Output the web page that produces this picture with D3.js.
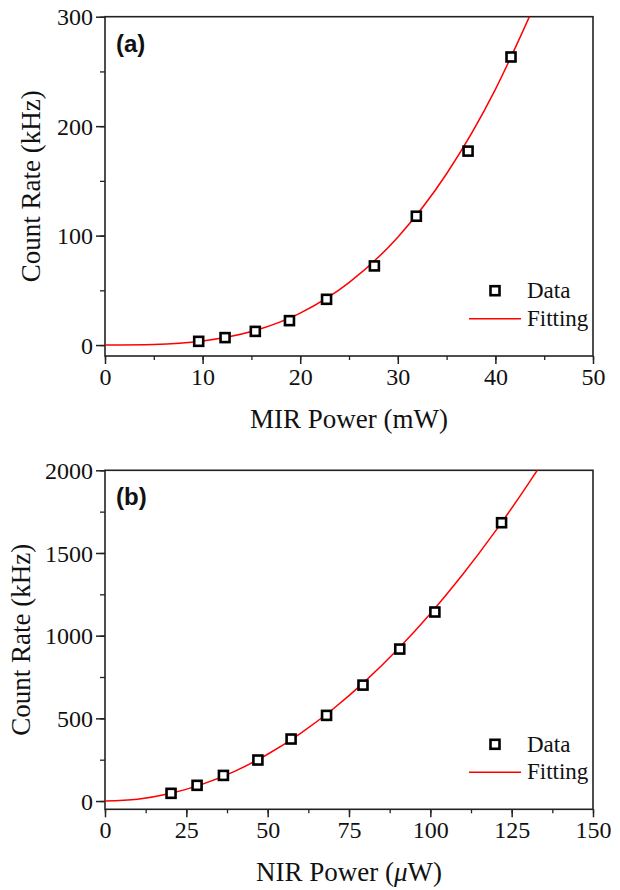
<!DOCTYPE html>
<html>
<head>
<meta charset="utf-8">
<script src="https://cdn.jsdelivr.net/npm/d3@7"></script>
<style>
  html, body { margin: 0; padding: 0; background: #fff; }
  svg { display: block; }
  svg text { font-family: "Liberation Serif", "Times New Roman", serif; }
</style>
</head>
<body>
<svg id="chart" width="620" height="890"></svg>
<script>
// ---- Panel (a): MIR pump power vs. count rate ----
const mirPower = [9.6, 12.3, 15.4, 18.9, 22.7, 27.6, 31.9, 37.2, 41.6];
const mirCount = [3.4, 6.8, 12.5, 22.3, 41.8, 72.3, 117.7, 177.2, 263.2];
// fitted curve, sampled along its length
const mirFitX = [0, 5, 10, 15, 20, 25, 30, 35, 40, 43.5];
const mirFitY = [0, 0.46, 3.65, 12.3, 29.2, 57.0, 98.6, 156.5, 233.6, 300.4];
const mirXTicks = [0, 10, 20, 30, 40, 50];
const mirYTicks = [0, 100, 200, 300];

// ---- Panel (b): NIR pump power vs. count rate ----
const nirPower = [20.3, 28.3, 36.4, 47.0, 57.2, 68.1, 79.3, 90.6, 101.4, 121.9];
const nirCount = [46.6, 95, 155, 248, 375, 518, 701, 919, 1143, 1683];
const nirFitX = [0, 10, 20, 30, 40, 50, 60, 70, 80, 90, 100, 110, 120, 130, 132.9];
const nirFitY = [0, 11.3, 45.3, 102, 181, 283, 408, 555, 725, 918, 1133, 1371, 1632, 1915, 2001];
const nirXTicks = [0, 25, 50, 75, 100, 125, 150];
const nirYTicks = [0, 500, 1000, 1500, 2000];

const legendLabels = ["Data", "Fitting"];
const yTitle = "Count Rate (kHz)";

const svg = d3.select("#chart");
const serif = '"Liberation Serif", "Times New Roman", serif';
const sans = '"Liberation Sans", Arial, sans-serif';
const left = 105, right = 593;

const panels = [
  {
    tag: "(a)", xs: mirPower, ys: mirCount, fx: mirFitX, fy: mirFitY,
    xDomain: [0, 50], yDomain: [-10, 300], xTicks: mirXTicks, yTicks: mirYTicks,
    xMinorStep: 5, yMinorStep: 50, top: 16.7, bottom: 356,
    yTitleX: 40, xTitle: [{t: "MIR Power (mW)"}]
  },
  {
    tag: "(b)", xs: nirPower, ys: nirCount, fx: nirFitX, fy: nirFitY,
    xDomain: [0, 150], yDomain: [-50, 2000], xTicks: nirXTicks, yTicks: nirYTicks,
    xMinorStep: 12.5, yMinorStep: 250, top: 470.3, bottom: 809.3,
    yTitleX: 30, xTitle: [{t: "NIR Power ("}, {t: "\u03bc", italic: true}, {t: "W)"}]
  }
];

panels.forEach((p, idx) => {
  const x = d3.scaleLinear().domain(p.xDomain).range([left, right]);
  const y = d3.scaleLinear().domain(p.yDomain).range([p.bottom, p.top]);
  const g = svg.append("g");

  const clipId = "clip" + idx;
  svg.append("clipPath").attr("id", clipId)
    .append("rect").attr("x", left).attr("y", p.top)
    .attr("width", right - left).attr("height", p.bottom - p.top);

  // minor ticks
  const xMinor = d3.range(p.xDomain[0], p.xDomain[1] + 1e-9, p.xMinorStep);
  const yMinor = d3.range(0, p.yDomain[1] + 1e-9, p.yMinorStep);
  g.append("g").attr("transform", `translate(0,${p.bottom})`)
    .call(d3.axisBottom(x).tickValues(xMinor).tickSize(4).tickFormat(""))
    .call(a => a.select(".domain").remove())
    .selectAll("line").attr("stroke", "#222").attr("stroke-width", 1.3);
  g.append("g").attr("transform", `translate(${left},0)`)
    .call(d3.axisLeft(y).tickValues(yMinor).tickSize(5).tickFormat(""))
    .call(a => a.select(".domain").remove())
    .selectAll("line").attr("stroke", "#222").attr("stroke-width", 1.3);

  // major ticks and labels
  const xa = g.append("g").attr("transform", `translate(0,${p.bottom})`)
    .call(d3.axisBottom(x).tickValues(p.xTicks).tickSize(8).tickPadding(6).tickFormat(d3.format("d")));
  xa.attr("font-family", null).attr("font-size", null);
  xa.select(".domain").remove();
  xa.selectAll("line").attr("stroke", "#222").attr("stroke-width", 1.5);
  xa.selectAll("text").attr("dy", null).attr("y", 29)
    .attr("fill", "#111")
    .style("font-family", serif).style("font-size", "24px");

  const ya = g.append("g").attr("transform", `translate(${left},0)`)
    .call(d3.axisLeft(y).tickValues(p.yTicks).tickSize(9).tickPadding(2).tickFormat(d3.format("d")));
  ya.attr("font-family", null).attr("font-size", null);
  ya.select(".domain").remove();
  ya.selectAll("line").attr("stroke", "#222").attr("stroke-width", 1.5);
  ya.selectAll("text").attr("x", -12).attr("dy", "0.34em")
    .attr("fill", "#111")
    .style("font-family", serif).style("font-size", "24px");

  // frame
  g.append("rect").attr("x", left).attr("y", p.top)
    .attr("width", right - left).attr("height", p.bottom - p.top)
    .attr("fill", "none").attr("stroke", "#222").attr("stroke-width", 1.6);

  // fitted curve
  const fit = p.fx.map((d, i) => [d, p.fy[i]]);
  g.append("path").datum(fit)
    .attr("clip-path", `url(#${clipId})`)
    .attr("fill", "none").attr("stroke", "#ff0000").attr("stroke-width", 1.5)
    .attr("d", d3.line().x(d => x(d[0])).y(d => y(d[1])).curve(d3.curveMonotoneX));

  // data markers
  const pts = p.xs.map((d, i) => [d, p.ys[i]]);
  const s = 9;
  g.selectAll("rect.pt").data(pts).join("rect").attr("class", "pt")
    .attr("x", d => x(d[0]) - s / 2).attr("y", d => y(d[1]) - s / 2)
    .attr("width", s).attr("height", s)
    .attr("fill", "#fff").attr("stroke", "#000").attr("stroke-width", 2.6);

  // panel tag
  g.append("text").attr("x", 116).attr("y", p.top + 35)
    .style("font-family", sans)
    .attr("font-weight", "bold").attr("font-size", 24).attr("fill", "#111")
    .text(p.tag);

  // legend
  const ly = p.top + 274;
  g.append("rect").attr("x", 495 - s / 2).attr("y", ly - s / 2)
    .attr("width", s).attr("height", s)
    .attr("fill", "#fff").attr("stroke", "#000").attr("stroke-width", 2.6);
  g.append("text").attr("x", 527).attr("y", ly + 7.5)
    .attr("font-size", 23).attr("fill", "#111")
    .text(legendLabels[0]);
  g.append("line").attr("x1", 469).attr("x2", 521).attr("y1", ly + 28).attr("y2", ly + 28)
    .attr("stroke", "#ff0000").attr("stroke-width", 1.5);
  g.append("text").attr("x", 527).attr("y", ly + 35)
    .attr("font-size", 23).attr("fill", "#111")
    .text(legendLabels[1]);

  // axis titles
  const xt = g.append("text").attr("x", (left + right) / 2).attr("y", p.bottom + 72)
    .attr("text-anchor", "middle")
    .attr("font-size", 27).attr("fill", "#111");
  p.xTitle.forEach(part => {
    xt.append("tspan").attr("font-style", part.italic ? "italic" : null).text(part.t);
  });

  g.append("text")
    .attr("transform", `translate(${p.yTitleX},${(p.top + p.bottom) / 2}) rotate(-90)`)
    .attr("text-anchor", "middle")
    .attr("font-size", 27).attr("fill", "#111")
    .text(yTitle);
});
</script>
</body>
</html>
